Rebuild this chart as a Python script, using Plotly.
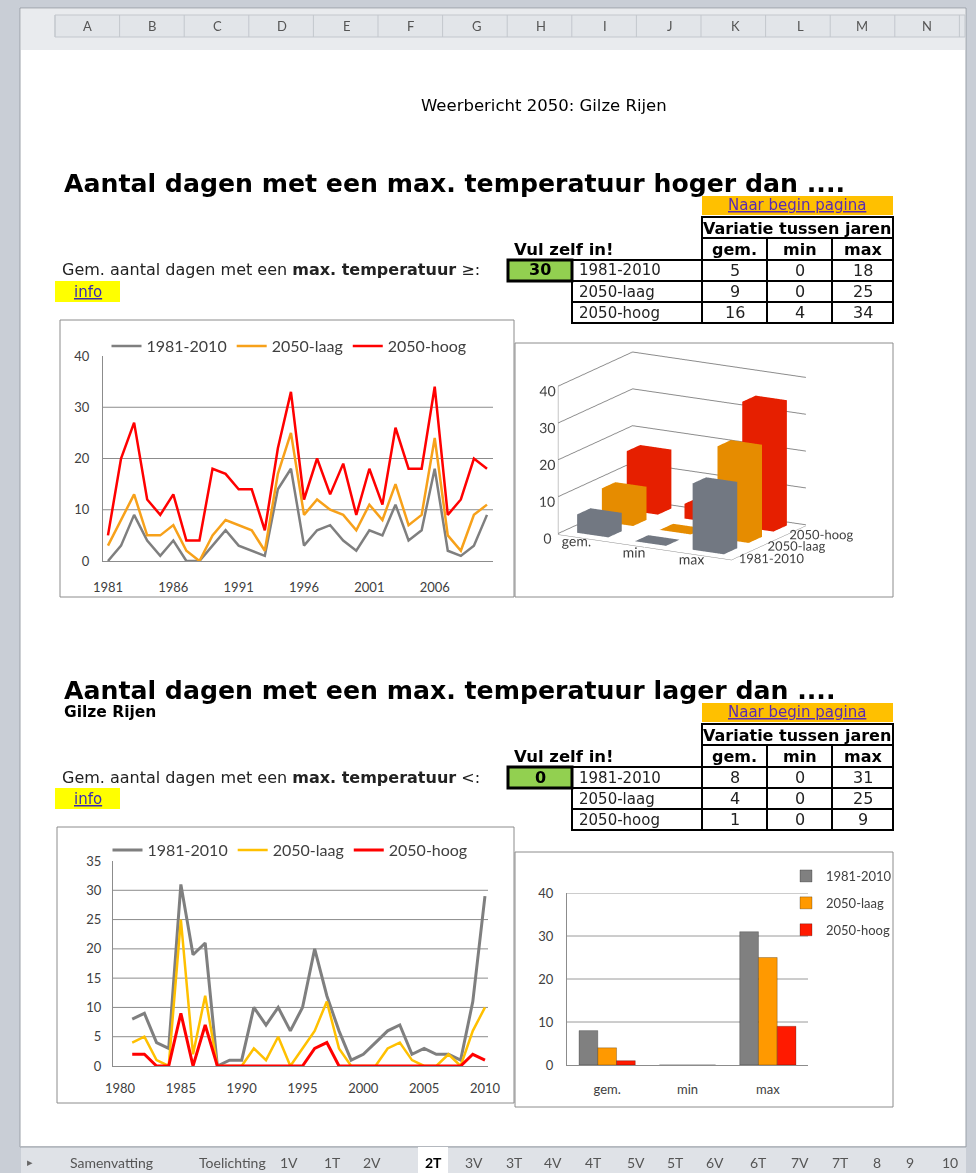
import plotly.graph_objects as go

W, H = 976, 1173

# ---- data ----
years = list(range(1981, 2011))

# max temperatuur hoger dan 30
hoger_1981_2010 = [0, 3, 9, 4, 1, 4, 0, 0, 3, 6, 3, 2, 1, 14, 18, 3, 6, 7, 4, 2, 6, 5, 11, 4, 6, 18, 2, 1, 3, 9]
hoger_laag = [3, 8, 13, 5, 5, 7, 2, 0, 5, 8, 7, 6, 2, 17, 25, 9, 12, 10, 9, 6, 11, 8, 15, 7, 9, 24, 5, 2, 9, 11]
hoger_hoog = [5, 20, 27, 12, 9, 13, 4, 4, 18, 17, 14, 14, 6, 22, 33, 12, 20, 13, 19, 9, 18, 11, 26, 18, 18, 34, 9, 12, 20, 18]

# max temperatuur lager dan 0
lager_1981_2010 = [8, 9, 4, 3, 31, 19, 21, 0, 1, 1, 10, 7, 10, 6, 10, 20, 12, 6, 1, 2, 4, 6, 7, 2, 3, 2, 2, 1, 11, 29]
lager_laag = [4, 5, 1, 0, 25, 2, 12, 0, 0, 0, 3, 1, 5, 0, 3, 6, 11, 3, 0, 0, 0, 3, 4, 1, 0, 0, 2, 0, 6, 10]
lager_hoog = [2, 2, 0, 0, 9, 0, 7, 0, 0, 0, 0, 0, 0, 0, 0, 3, 4, 0, 0, 0, 0, 0, 0, 0, 0, 0, 0, 0, 2, 1]

series = ["1981-2010", "2050-laag", "2050-hoog"]
stats = ["gem.", "min", "max"]

# Variatie tussen jaren (rows = series, cols = gem./min/max)
hoger_stats = [[5, 0, 18], [9, 0, 25], [16, 4, 34]]
lager_stats = [[8, 0, 31], [4, 0, 25], [1, 0, 9]]

drempel_hoger = "30"
drempel_lager = "0"

col_letters = ["A", "B", "C", "D", "E", "F", "G", "H", "I", "J", "K", "L", "M", "N"]
col_letter_x = [87, 152, 217, 282, 347, 410, 477, 541, 605, 670, 735, 800, 862, 927]
tabs = ["Samenvatting", "Toelichting", "1V", "1T", "2V", "2T", "3V", "3T", "4V", "4T",
        "5V", "5T", "6V", "6T", "7V", "7T", "8", "9", "10"]
tab_x = [111, 232, 289, 332, 372, 433, 474, 514, 553, 593, 636, 675, 715, 758, 800, 840, 877, 910, 950]

GRAY, ORANGE, RED, GOLD = "#7f7f7f", "#f7a11a", "#ff0000", "#ffc000"
SHEET_FONT = "DejaVu Sans"
CHART_FONT = "Lato"


def px(x):
    return x / W


def py(y):
    return 1 - y / H


shapes = []
annotations = []


def rect(x0, y0, x1, y1, fill=None, line=None, width=1, layer="below"):
    shapes.append(dict(type="rect", xref="paper", yref="paper",
                       x0=px(x0), x1=px(x1), y0=py(y1), y1=py(y0),
                       fillcolor=fill if fill else "rgba(0,0,0,0)",
                       line=dict(color=line if line else "rgba(0,0,0,0)", width=width if line else 0),
                       layer=layer))


def hline(x0, x1, y, color, width=1):
    shapes.append(dict(type="line", xref="paper", yref="paper", x0=px(x0), x1=px(x1),
                       y0=py(y), y1=py(y), line=dict(color=color, width=width), layer="below"))


def vline(x, y0, y1, color, width=1):
    shapes.append(dict(type="line", xref="paper", yref="paper", x0=px(x), x1=px(x),
                       y0=py(y0), y1=py(y1), line=dict(color=color, width=width), layer="below"))


def text(x, y, s, size=15, color="#000", anchor="left", family=SHEET_FONT):
    annotations.append(dict(x=px(x), y=py(y), xref="paper", yref="paper", text=s,
                            showarrow=False, xanchor=anchor, yanchor="middle",
                            font=dict(family=family, size=size, color=color)))


# ---- Excel frame ----
rect(0, 0, W, H, fill="#c9ced6")
rect(20, 8, 966, 1147, fill="#ffffff", line="#9aa0a8", width=1)
rect(21, 9, 965, 50, fill="#e9ebee")
rect(55, 15, 965, 37, fill="#e2e5e9", line="#c3c7cd", width=1)
for i in range(15):
    vline(55 + 64.6 * i, 15, 37, "#c3c7cd")
for letter, lx in zip(col_letters, col_letter_x):
    text(lx, 26, letter, size=13, color="#555", anchor="center", family=CHART_FONT)
rect(21, 1147, 966, 1173, fill="#dfe2e7")
hline(21, 966, 1147, "#9aa0a8")
for name, tx in zip(tabs, tab_x):
    if name == "2T":
        rect(tx - 15, 1147, tx + 15, 1173, fill="#ffffff")
        text(tx, 1162, "<b>2T</b>", size=14, color="#000", anchor="center", family=CHART_FONT)
    else:
        text(tx, 1162, name, size=14, color="#555", anchor="center", family=CHART_FONT)
text(30, 1162, "▸", size=11, color="#666", anchor="center")

text(544, 106, "Weerbericht 2050: Gilze Rijen", size=16.5, anchor="center")


def section(dy, title, sign, drempel, st, subtitle=None):
    text(62, 183 + dy, "<b>" + title + "</b>", size=25.2)
    if subtitle:
        text(62, 712, "<b>" + subtitle + "</b>", size=15.5)
    # link bar
    rect(702, 196 + dy, 893, 215 + dy, fill="#ffc000")
    text(797, 205 + dy, "<u>Naar begin pagina</u>", size=15, color="#5b2bb0", anchor="center")
    # table
    rect(702, 217 + dy, 893, 238 + dy, fill="#fff", line="#000", width=2)
    text(797, 228 + dy, "<b>Variatie tussen jaren</b>", size=16, anchor="center")
    cols = [702, 767, 832, 893]
    for c in range(3):
        rect(cols[c], 238 + dy, cols[c + 1], 260 + dy, line="#000", width=2)
        text((cols[c] + cols[c + 1]) / 2, 249 + dy, "<b>" + stats[c] + "</b>", size=16, anchor="center")
    rows = [260, 281, 302, 323]
    for r in range(3):
        rect(572, rows[r] + dy, 702, rows[r + 1] + dy, line="#000", width=2)
        text(577, (rows[r] + rows[r + 1]) / 2 + dy, series[r], size=15, color="#222")
        for c in range(3):
            rect(cols[c], rows[r] + dy, cols[c + 1], rows[r + 1] + dy, line="#000", width=2)
            text((cols[c] + cols[c + 1]) / 2, (rows[r] + rows[r + 1]) / 2 + dy, str(st[r][c]),
                 size=16, color="#222", anchor="center")
    text(512, 249 + dy, "<b>Vul zelf in!</b>", size=16.5)
    rect(508, 260 + dy, 572, 281 + dy, fill="#92d050", line="#000", width=3)
    text(540, 270 + dy, "<b>" + drempel + "</b>", size=16, anchor="center")
    text(60, 270 + dy, "Gem. aantal dagen met een <b>max. temperatuur</b> " + sign + ":", size=16, color="#222")
    rect(55, 281 + dy, 120, 302 + dy, fill="#ffff00")
    text(88, 292 + dy, "<u>info</u>", size=15, color="#3a2bb0", anchor="center")


section(0, "Aantal dagen met een max. temperatuur hoger dan ....", "≥", drempel_hoger, hoger_stats)
section(507, "Aantal dagen met een max. temperatuur lager dan ....", "<", drempel_lager, lager_stats,
        subtitle="Gilze Rijen")

# chart boxes
rect(60, 320, 514, 597, fill="#fff", line="#8c8c8c")
rect(515, 343, 893, 597, fill="#fff", line="#8c8c8c")
rect(57, 827, 514, 1103, fill="#fff", line="#8c8c8c")
rect(515, 852, 893, 1107, fill="#fff", line="#8c8c8c")

fig = go.Figure()

# ---- line chart: hoger dan ----
for name, vals, col in zip(series, [hoger_1981_2010, hoger_laag, hoger_hoog], [GRAY, ORANGE, RED]):
    fig.add_trace(go.Scatter(x=years, y=vals, name=name, mode="lines",
                             line=dict(color=col, width=2.5), xaxis="x", yaxis="y", legend="legend"))

# ---- line chart: lager dan ----
for name, vals, col, w in zip(series, [lager_1981_2010, lager_laag, lager_hoog], [GRAY, GOLD, RED], [3, 2.5, 3]):
    fig.add_trace(go.Scatter(x=years, y=vals, name=name, mode="lines",
                             line=dict(color=col, width=w), xaxis="x2", yaxis="y2", legend="legend2"))

# ---- bar chart: lager dan ----
for j, (name, col) in enumerate(zip(series, ["#808080", "#ff9900", "#ff1a00"])):
    fig.add_trace(go.Bar(x=stats, y=[lager_stats[j][c] for c in range(3)], name=name,
                         marker=dict(color=col, line=dict(color="rgba(0,0,0,0.25)", width=1)),
                         xaxis="x3", yaxis="y3", legend="legend3", legendgroup=name))

# ---- 3D bar chart: hoger dan ----
bw = 0.27
for j, (name, col) in enumerate(zip(series, ["#7f8590", "#ff9c00", "#ff2200"])):
    X, Y, Z, I, J, K = [], [], [], [], [], []
    for c in range(3):
        v = hoger_stats[j][c]
        x0, x1, y0, y1 = c - bw, c + bw, j - bw, j + bw
        base = len(X)
        X += [x0, x1, x1, x0, x0, x1, x1, x0]
        Y += [y0, y0, y1, y1, y0, y0, y1, y1]
        Z += [0, 0, 0, 0, v, v, v, v]
        tri = [(0, 1, 2), (0, 2, 3), (4, 5, 6), (4, 6, 7), (0, 1, 5), (0, 5, 4),
               (3, 2, 6), (3, 6, 7), (0, 3, 7), (0, 7, 4), (1, 2, 6), (1, 6, 5)]
        for a, b, d in tri:
            I.append(base + a)
            J.append(base + b)
            K.append(base + d)
    fig.add_trace(go.Mesh3d(x=X, y=Y, z=Z, i=I, j=J, k=K, color=col, flatshading=True,
                            lighting=dict(ambient=0.9, diffuse=0.3, specular=0.0, roughness=1.0, fresnel=0.0),
                            lightposition=dict(x=-20000, y=-60000, z=30000),
                            showlegend=False, hoverinfo="skip", scene="scene"))

tickfont = dict(family=CHART_FONT, size=13, color="#404040")
for v in [10, 20, 30]:
    shapes.append(dict(type="line", xref="x domain", yref="y", x0=0, x1=1, y0=v, y1=v,
                       line=dict(color="#8c8c8c", width=1), layer="below"))
for v in [5, 10, 15, 20, 25, 30]:
    shapes.append(dict(type="line", xref="x2 domain", yref="y2", x0=0, x1=1, y0=v, y1=v,
                       line=dict(color="#8c8c8c", width=1), layer="below"))
for v in [10, 20, 30, 40]:
    shapes.append(dict(type="line", xref="x3 domain", yref="y3", x0=0, x1=1, y0=v, y1=v,
                       line=dict(color="#9a9a9a", width=1), layer="below"))

scene_axis = dict(title=dict(text=""), showspikes=False, zeroline=False, showbackground=True,
                  backgroundcolor="#ffffff", tickfont=dict(family=CHART_FONT, size=13, color="#404040"),
                  showline=True, linecolor="#8c8c8c", gridcolor="#8c8c8c", tickangle=0,
                  ticks="outside", tickcolor="rgba(0,0,0,0)")

axis_common = dict(showgrid=False, zeroline=False, showline=True, linecolor="#8c8c8c",
                   tickfont=tickfont, automargin=False, ticks="")

eye_dir = (0.475, -0.840, 0.259)
eye_len = 1.6

fig.update_layout(
    width=W, height=H, margin=dict(l=0, r=0, t=0, b=0, autoexpand=False),
    paper_bgcolor="#c9ced6", plot_bgcolor="rgba(0,0,0,0)",
    shapes=shapes, annotations=annotations,
    xaxis=dict(axis_common, domain=[px(103), px(493)], range=[1980.62, 2010.46],
               tickvals=[1981, 1986, 1991, 1996, 2001, 2006], anchor="y", ticklabelstandoff=14),
    yaxis=dict(axis_common, domain=[py(561), py(356)], range=[0, 40], tickvals=[0, 10, 20, 30, 40],
               anchor="x", ticklabelstandoff=10),
    xaxis2=dict(axis_common, domain=[px(113), px(488)], range=[1979.42, 2010.25],
                tickvals=[1980, 1985, 1990, 1995, 2000, 2005, 2010], anchor="y2", ticklabelstandoff=10),
    yaxis2=dict(axis_common, domain=[py(1066), py(861)], range=[0, 35], dtick=5, anchor="x2",
                ticklabelstandoff=8),
    xaxis3=dict(axis_common, domain=[px(567), px(808)], anchor="y3", ticklabelstandoff=12),
    yaxis3=dict(axis_common, domain=[py(1065), py(893)], range=[0, 40], dtick=10, anchor="x3",
                ticklabelstandoff=10),
    barmode="group", bargap=0.3, bargroupgap=0,
    legend=dict(orientation="h", x=px(289), xanchor="center", y=py(346), yanchor="middle",
                font=dict(family=CHART_FONT, size=16, color="#404040"), bgcolor="rgba(0,0,0,0)"),
    legend2=dict(orientation="h", x=px(290), xanchor="center", y=py(850), yanchor="middle",
                 font=dict(family=CHART_FONT, size=16, color="#404040"), bgcolor="rgba(0,0,0,0)"),
    legend3=dict(orientation="v", x=px(786), xanchor="left", y=py(861), yanchor="top",
                 font=dict(family=CHART_FONT, size=13, color="#404040"), bgcolor="rgba(0,0,0,0)",
                 traceorder="grouped", tracegroupgap=7, itemwidth=30),
    scene=dict(domain=dict(x=[px(494), px(870)], y=[py(582), py(330)]),
               xaxis=dict(scene_axis, tickvals=[0, 1, 2], ticktext=stats, range=[-0.5, 2.5],
                          showgrid=False, ticklen=14),
               yaxis=dict(scene_axis, tickvals=[0, 1, 2], ticktext=series, range=[-0.5, 2.5],
                          showgrid=False, ticklen=4,
                          tickfont=dict(family=CHART_FONT, size=12.5, color="#404040")),
               zaxis=dict(scene_axis, range=[-0.3, 40], tickvals=[0, 10, 20, 30, 40], ticklen=4),
               aspectmode="manual", aspectratio=dict(x=1.58, y=1.2, z=1.22),
               camera=dict(eye=dict(x=eye_dir[0] * eye_len, y=eye_dir[1] * eye_len, z=eye_dir[2] * eye_len),
                           center=dict(x=0, y=0, z=0),
                           projection=dict(type="orthographic")),
               bgcolor="rgba(0,0,0,0)"),
    showlegend=True,
)

# page body has a default 8px margin; remove it so the figure fills the window
fig.write_html("out.html", config={"displayModeBar": False},
               post_script="document.body.style.margin='0px';")
